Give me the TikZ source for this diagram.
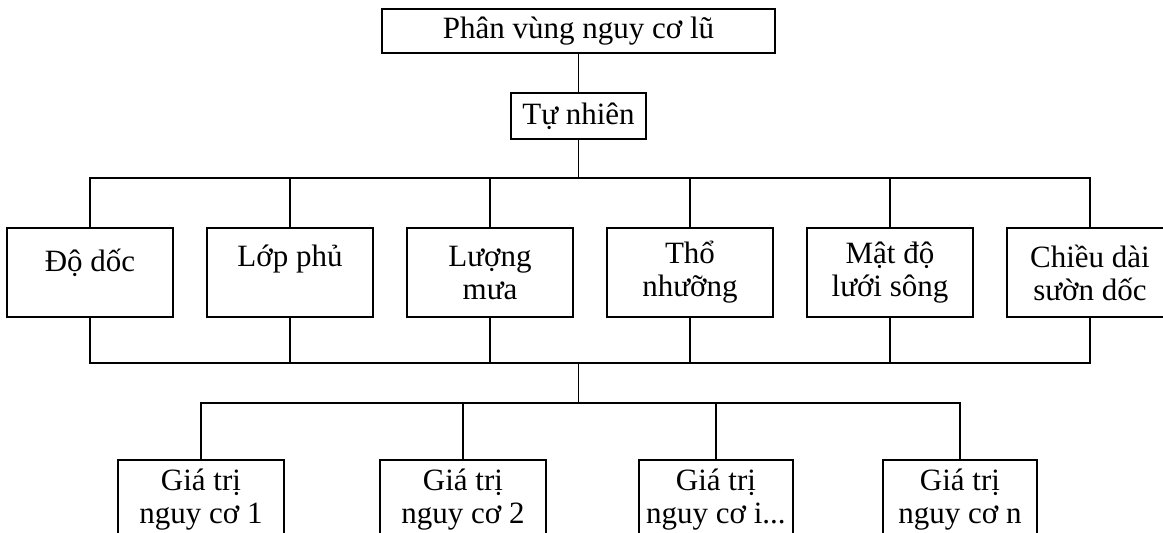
\documentclass[tikz,border=0pt]{standalone}
\usepackage{fontspec}
\setmainfont{Liberation Serif}
\usepackage{tikz}

\begin{document}
\begin{tikzpicture}[x=1pt,y=-1pt,
	box/.style={draw, line width=1.5pt, align=center, inner sep=0pt, font=\fontsize{31}{33}\selectfont},
	factor/.style={box, minimum width=166pt, minimum height=89pt},
	value/.style={box, minimum height=80pt},
	link/.style={line width=1.5pt}]

	\useasboundingbox (0,0) rectangle (1163,533);

	% Top
	\node[box, minimum width=393pt, minimum height=44pt] (flood) at (578.5,31) {Phân vùng nguy cơ lũ};
	\node[box, minimum width=135pt, minimum height=46pt] (nature) at (578.5,116) {Tự nhiên};
	\draw[link] (flood) -- (nature);

	% Factors
	\node[factor] (slope) at (90,272.5) {Độ dốc\\[-8pt]\mbox{}};
	\node[factor] (cover) at (290,272.5) {Lớp phủ\\\mbox{}};
	\node[factor] (rain) at (490,272.5) {Lượng\\mưa};
	\node[factor] (soil) at (690,272.5) {Thổ\\nhưỡng};
	\node[factor] (river) at (890,272.5) {Mật độ\\lưới sông};
	\node[factor] (length) at (1090,272.5) {Chiều dài\\sườn dốc};

	\coordinate (busTop) at (578.5,178);
	\draw[link] (nature) -- (busTop);
	\draw[link] (busTop) -| (slope.north);
	\draw[link] (busTop) -| (cover.north);
	\draw[link] (busTop) -| (rain.north);
	\draw[link] (busTop) -| (soil.north);
	\draw[link] (busTop) -| (river.north);
	\draw[link] (busTop) -| (length.north);

	\coordinate (busBot) at (578.5,363);
	\draw[link] (slope.south) |- (busBot);
	\draw[link] (cover.south) |- (busBot);
	\draw[link] (rain.south) |- (busBot);
	\draw[link] (soil.south) |- (busBot);
	\draw[link] (river.south) |- (busBot);
	\draw[link] (length.south) |- (busBot);

	% Values
	\node[value, minimum width=166pt] (v1) at (201,500) {Giá trị\\nguy cơ 1};
	\node[value, minimum width=166pt] (v2) at (463,500) {Giá trị\\nguy cơ 2};
	\node[value, minimum width=154pt] (vi) at (716,500) {Giá trị\\nguy cơ i...};
	\node[value, minimum width=154pt] (vn) at (960,500) {Giá trị\\nguy cơ n};

	\coordinate (split) at (578.5,403);
	\draw[link] (busBot) -- (split);
	\draw[link] (split) -| (v1.north);
	\draw[link] (split) -| (v2.north);
	\draw[link] (split) -| (vi.north);
	\draw[link] (split) -| (vn.north);

\end{tikzpicture}
\end{document}
